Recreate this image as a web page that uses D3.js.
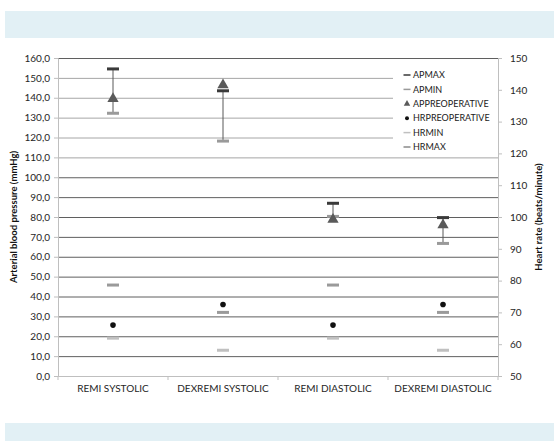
<!DOCTYPE html>
<html><head><meta charset="utf-8">
<script src="https://cdn.jsdelivr.net/npm/d3@7"></script>
<style>body{margin:0;background:#fff;}svg{display:block;font-family:Lato,"Open Sans",sans-serif;}</style>
</head><body><svg id="c" width="554" height="441"></svg>
<script>
const categories = ["REMI SYSTOLIC","DEXREMI SYSTOLIC","REMI DIASTOLIC","DEXREMI DIASTOLIC"];
const apMax = [154.5, 143.5, 86.9, 79.7];
const apMin = [132.2, 118.2, 80.3, 66.7];
const apPreop = [139.5, 146.4, 78.8, 76.0];
const hrPreop = [66.0, 72.5, 66.0, 72.5];
const hrMin = [61.9, 58.1, 61.9, 58.1];
const hrMax = [78.6, 70.0, 78.6, 70.0];
const leftTicks = d3.range(0, 161, 10);
const rightTicks = d3.range(50, 151, 10);
const legendItems = ["APMAX","APMIN","APPREOPERATIVE","HRPREOPERATIVE","HRMIN","HRMAX"];

const svg = d3.select("#c");
const L = 58, R = 498, T = 58, B = 376;
svg.append("rect").attr("x",5).attr("y",11).attr("width",549).attr("height",27).attr("fill","#e2f0f5");
svg.append("rect").attr("x",5).attr("y",423).attr("width",549).attr("height",18).attr("fill","#e2f0f5");

const x = d3.scaleBand().domain(categories).range([L,R]);
const yL = d3.scaleLinear().domain([0,160]).range([B,T]);
const yR = d3.scaleLinear().domain([50,150]).range([B,T]);

// gridlines
const legX = 393, legY0 = 59, legY1 = 157;
svg.append("g").selectAll("line").data(leftTicks.filter(d=>d>0)).join("line")
  .attr("x1",L).attr("x2",d=> (yL(d)>legY0 && yL(d)<legY1) ? legX : R)
  .attr("y1",d=>yL(d)+0.5).attr("y2",d=>yL(d)+0.5)
  .attr("stroke",d=> (d>=110 && d<160) ? "#a6a6a6" : "#5f5f5f").attr("stroke-width",1);

// axes
const gl = svg.append("g").attr("transform",`translate(${L},0)`)
  .call(d3.axisLeft(yL).tickValues(leftTicks).tickSize(4).tickFormat(d=>d3.format(".1f")(d).replace(".",",")));
const gr = svg.append("g").attr("transform",`translate(${R},0)`)
  .call(d3.axisRight(yR).tickValues(rightTicks).tickSize(4));
const gx = svg.append("g").attr("transform",`translate(0,${B})`)
  .call(d3.axisBottom(x).tickSize(0));
gx.selectAll(".tick line").remove();
gx.append("g").selectAll("line").data(d3.range(0,5)).join("line")
  .attr("x1",i=>L+i*x.step()).attr("x2",i=>L+i*x.step()).attr("y1",0).attr("y2",4).attr("stroke","#bfbfbf");
[gl,gr,gx].forEach(g=>{
  g.select(".domain").attr("stroke","#bfbfbf");
  g.selectAll(".tick line").attr("stroke","#bfbfbf");
  g.selectAll("text").attr("fill","#262626").style("font-size","10px").style("font-family","Lato,'Open Sans',sans-serif");
});
gx.selectAll("text").attr("dy","1.25em");
gl.selectAll("text").attr("x",-8);
gr.selectAll("text").attr("x",12);

// axis titles
svg.append("text").attr("transform",`translate(17,${(T+B)/2}) rotate(-90)`).attr("text-anchor","middle")
  .style("font-size","9.5px").style("font-weight","bold").attr("fill","#111").text("Arterial blood pressure (mmHg)");
svg.append("text").attr("transform",`translate(542,${(T+B)/2}) rotate(-90)`).attr("text-anchor","middle")
  .style("font-size","9.5px").style("font-weight","bold").attr("fill","#111").text("Heart rate (beats/minute)");

const cx = d => x(d)+x.bandwidth()/2;
const dashW = 12;
// high-low lines
svg.append("g").selectAll("line").data(categories).join("line")
  .attr("x1",d=>cx(d)).attr("x2",d=>cx(d))
  .attr("y1",(d,i)=>yL(apMax[i])).attr("y2",(d,i)=>yL(apMin[i]))
  .attr("stroke","#595959").attr("stroke-width",1);

function dashes(vals, scale, color, h){
  svg.append("g").selectAll("rect").data(categories).join("rect")
    .attr("x",d=>cx(d)-dashW/2).attr("width",dashW)
    .attr("y",(d,i)=>scale(vals[i])-h/2).attr("height",h).attr("fill",color);
}
dashes(hrMin, yR, "#c0c0c0", 3);
dashes(hrMax, yR, "#9a9a9a", 3);
dashes(apMin, yL, "#9a9a9a", 3);
dashes(apMax, yL, "#3a3a3a", 3);
// triangles
const tri = d3.symbol().type(d3.symbolTriangle).size(55);
svg.append("g").selectAll("path").data(categories).join("path")
  .attr("d",tri).attr("transform",(d,i)=>`translate(${cx(d)},${yL(apPreop[i])})`).attr("fill","#5a5a5a");
// HR dots
svg.append("g").selectAll("circle").data(categories).join("circle")
  .attr("cx",d=>cx(d)).attr("cy",(d,i)=>yR(hrPreop[i])).attr("r",2.8).attr("fill","#111");

// legend
const lg = svg.append("g");
const ly = d3.scalePoint().domain(legendItems).range([75,147]);
legendItems.forEach(k=>{
  const y = ly(k), sx = 407;
  if(k==="APPREOPERATIVE") lg.append("path").attr("d",d3.symbol().type(d3.symbolTriangle).size(18)).attr("transform",`translate(${sx},${y})`).attr("fill","#5a5a5a");
  else if(k==="HRPREOPERATIVE") lg.append("circle").attr("cx",sx).attr("cy",y).attr("r",2).attr("fill","#111");
  else {
    const col = {APMAX:"#3a3a3a",APMIN:"#9a9a9a",HRMIN:"#c0c0c0",HRMAX:"#8a8a8a"}[k];
    lg.append("rect").attr("x",sx-3.5).attr("y",y-0.75).attr("width",7).attr("height",1.5).attr("fill",col);
  }
  lg.append("text").attr("x",413).attr("y",y).attr("dy","0.35em").style("font-size","9px").attr("fill","#1a1a1a").text(k);
});
</script></body></html>
